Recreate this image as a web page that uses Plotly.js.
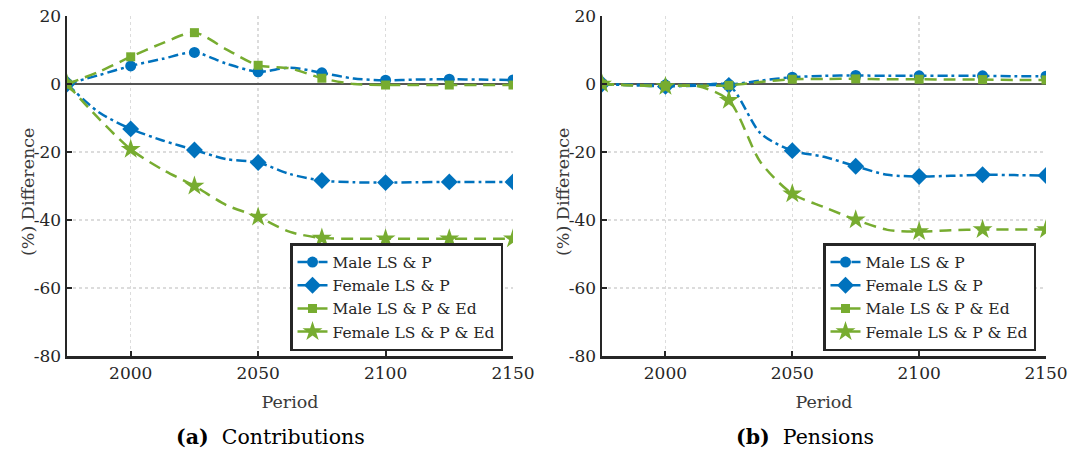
<!DOCTYPE html>
<html>
<head>
<meta charset="utf-8">
<script src="https://cdn.plot.ly/plotly-3.0.1.min.js"></script>
<style>html,body{margin:0;padding:0;background:#fff;}#chart{width:1073px;height:455px;}</style>
</head>
<body>
<div id="chart"></div>
<script>
// Periods (x values); markers are drawn only at the 25-year points
const years = [1975, 1987.5, 2000, 2012.5, 2025, 2037.5, 2050, 2062.5, 2075, 2087.5, 2100, 2112.5, 2125, 2137.5, 2150];
const markerYears = [1975, 2000, 2025, 2050, 2075, 2100, 2125, 2150];

// (a) Contributions, % difference
const contribMaleLSP      = [0, 2.6, 5.3, 7.4, 9.3, 6.0, 3.6, 4.8, 3.3, 1.6, 1.1, 1.3, 1.4, 1.3, 1.2];
const contribFemaleLSP    = [0, -8.3, -13.2, -16.6, -19.4, -22.1, -23.1, -26.5, -28.4, -28.9, -29.0, -28.9, -28.8, -28.8, -28.8];
const contribMaleLSPEd    = [0, 3.6, 8.0, 12.0, 15.1, 10.2, 5.5, 4.6, 1.7, 0.0, -0.3, -0.3, -0.3, -0.3, -0.3];
const contribFemaleLSPEd  = [0, -10.2, -19.2, -25.2, -30.0, -35.6, -39.1, -43.5, -45.3, -45.5, -45.5, -45.5, -45.5, -45.5, -45.5];

// (b) Pensions, % difference
const pensionMaleLSP      = [0, -0.2, -0.3, -0.3, -0.2, 1.0, 2.0, 2.4, 2.5, 2.4, 2.4, 2.4, 2.4, 2.3, 2.3];
const pensionFemaleLSP    = [0, -0.4, -0.7, -0.5, -0.4, -14.5, -19.6, -21.4, -24.2, -26.7, -27.2, -27.0, -26.7, -26.8, -26.9];
const pensionMaleLSPEd    = [0, -0.4, -0.5, -0.5, -0.4, 0.6, 1.4, 1.5, 1.5, 1.4, 1.4, 1.3, 1.3, 1.2, 1.2];
const pensionFemaleLSPEd  = [0, -0.4, -0.7, -0.6, -4.8, -23.0, -32.3, -36.2, -39.9, -42.9, -43.4, -43.0, -42.8, -42.8, -42.8];

const seriesNames = ['Male LS &amp; P', 'Female LS &amp; P', 'Male LS &amp; P &amp; Ed', 'Female LS &amp; P &amp; Ed'];
const xTickVals = [2000, 2050, 2100, 2150];
const xTickText = ['2000', '2050', '2100', '2150'];
const yTickVals = [-80, -60, -40, -20, 0, 20];
const yTickText = ['-80', '-60', '-40', '-20', '0', '20'];
const subTitles = ['<b>(a)</b>  Contributions', '<b>(b)</b>  Pensions'];
const xTitle = 'Period';
const yTitle = '(%) Difference';

const BLUE = '#0072BD', GREEN = '#77AC30';
const FONT = 'DejaVu Serif, Liberation Serif, serif';
const styles = [
  {color: BLUE,  dash: '10px,4px,3px,4px', symbol: 'circle',  size: 11},
  {color: BLUE,  dash: '10px,4px,3px,4px', symbol: 'diamond', size: 13},
  {color: GREEN, dash: '12px,7px',         symbol: 'square',  size: 9},
  {color: GREEN, dash: '12px,7px',         symbol: 'star',    size: 15}
];

function makeTrace(yvals, idx, xa, ya, legendId) {
  const st = styles[idx];
  return {
    x: years, y: yvals, xaxis: xa, yaxis: ya, legend: legendId,
    type: 'scatter', mode: 'lines+markers', name: seriesNames[idx],
    line: {color: st.color, width: 2.5, dash: st.dash, shape: 'spline', smoothing: 0.8},
    marker: {
      symbol: st.symbol, size: st.size,
      color: years.map(function (yr) { return markerYears.indexOf(yr) >= 0 ? st.color : 'rgba(0,0,0,0)'; }),
      line: {width: 0}
    },
    hoverinfo: 'skip'
  };
}

const data = [
  makeTrace(contribMaleLSP, 0, 'x', 'y', 'legend'),
  makeTrace(contribFemaleLSP, 1, 'x', 'y', 'legend'),
  makeTrace(contribMaleLSPEd, 2, 'x', 'y', 'legend'),
  makeTrace(contribFemaleLSPEd, 3, 'x', 'y', 'legend'),
  makeTrace(pensionMaleLSP, 0, 'x2', 'y2', 'legend2'),
  makeTrace(pensionFemaleLSP, 1, 'x2', 'y2', 'legend2'),
  makeTrace(pensionMaleLSPEd, 2, 'x2', 'y2', 'legend2'),
  makeTrace(pensionFemaleLSPEd, 3, 'x2', 'y2', 'legend2')
];

const AX = '#262626';
function xAxis(domain, anchor) {
  return {
    domain: domain, anchor: anchor, range: [1975, 2150], autorange: false,
    tickmode: 'array', tickvals: xTickVals, ticktext: xTickText,
    ticks: 'inside', ticklen: 5, tickwidth: 2, tickcolor: AX,
    showline: true, linecolor: AX, linewidth: 2.5,
    showgrid: true, gridcolor: '#dcdcdc', gridwidth: 1.5, griddash: 'dot',
    zeroline: false, automargin: false,
    tickfont: {family: FONT, size: 17, color: AX},
    title: {text: xTitle, font: {family: FONT, size: 17.5, color: '#3a3a3a'}, standoff: 14}
  };
}
function yAxis(domain, anchor) {
  return {
    domain: domain, anchor: anchor, range: [-80, 20], autorange: false,
    tickmode: 'array', tickvals: yTickVals, ticktext: yTickText,
    ticks: 'inside', ticklen: 5, tickwidth: 2, tickcolor: AX,
    showline: true, linecolor: AX, linewidth: 2.5,
    showgrid: true, gridcolor: '#dcdcdc', gridwidth: 1.5, griddash: 'dot',
    zeroline: true, zerolinecolor: '#555555', zerolinewidth: 1.5, automargin: false,
    tickfont: {family: FONT, size: 17, color: AX}
  };
}
function legendCfg(xRight) {
  return {
    x: xRight, xanchor: 'right', y: 1 - 351 / 455, yanchor: 'bottom',
    bgcolor: '#ffffff', bordercolor: AX, borderwidth: 2.5,
    font: {family: FONT, size: 15.5, color: AX},
    tracegroupgap: 0, itemsizing: 'trace', itemclick: false
  };
}

const yDom = [1 - 356 / 455, 1 - 16 / 455];
const titleFont = {family: FONT, size: 17.5, color: '#3a3a3a'};
const subFont = {family: FONT, size: 20.5, color: '#000'};
const layout = {
  width: 1073, height: 455,
  margin: {l: 0, r: 0, t: 0, b: 0},
  paper_bgcolor: '#ffffff', plot_bgcolor: '#ffffff',
  showlegend: true, hovermode: false,
  xaxis: xAxis([67 / 1073, 513 / 1073], 'y'),
  yaxis: yAxis(yDom, 'x'),
  xaxis2: xAxis([602 / 1073, 1046 / 1073], 'y2'),
  yaxis2: yAxis(yDom, 'x2'),
  legend: legendCfg(503 / 1073),
  legend2: legendCfg(1036 / 1073),
  annotations: [
    {text: yTitle, xref: 'paper', yref: 'paper', x: 28 / 1073, y: 1 - 192 / 455, textangle: -90,
     xanchor: 'center', yanchor: 'middle', showarrow: false, font: titleFont},
    {text: yTitle, xref: 'paper', yref: 'paper', x: 563 / 1073, y: 1 - 192 / 455, textangle: -90,
     xanchor: 'center', yanchor: 'middle', showarrow: false, font: titleFont},
    {text: subTitles[0], xref: 'paper', yref: 'paper', x: 270 / 1073, y: 1 - 437 / 455,
     xanchor: 'center', yanchor: 'middle', showarrow: false, font: subFont},
    {text: subTitles[1], xref: 'paper', yref: 'paper', x: 805 / 1073, y: 1 - 437 / 455,
     xanchor: 'center', yanchor: 'middle', showarrow: false, font: subFont}
  ]
};

Plotly.newPlot('chart', data, layout, {staticPlot: true, displayModeBar: false});
</script>
</body>
</html>
